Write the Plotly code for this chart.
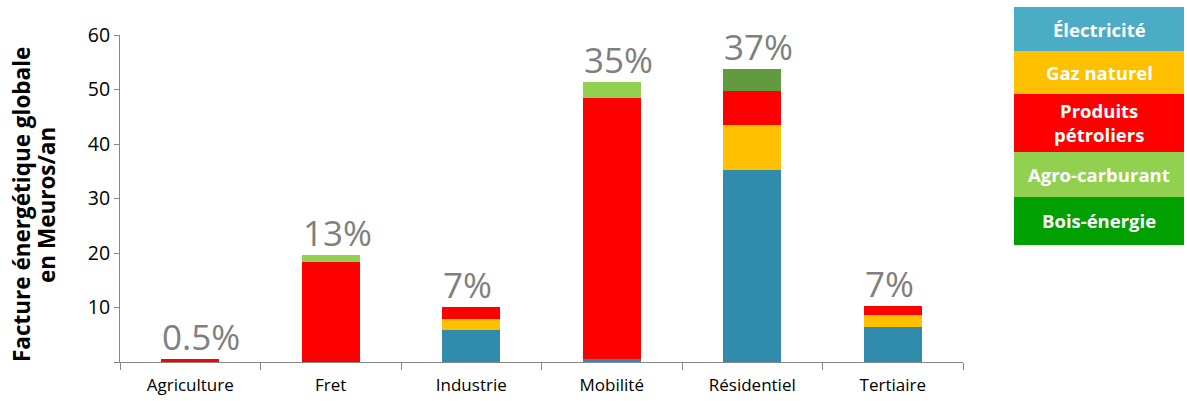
import plotly.graph_objects as go

categories = ["Agriculture", "Fret", "Industrie", "Mobilité", "Résidentiel", "Tertiaire"]
electricite = [0.0, 0.0, 5.9, 0.5, 35.2, 6.5]
gaz_naturel = [0.0, 0.0, 1.9, 0.0, 8.2, 2.1]
produits_petroliers = [0.6, 18.4, 2.3, 47.9, 6.3, 1.7]
agro_carburant = [0.0, 1.2, 0.0, 3.0, 0.0, 0.0]
bois_energie = [0.0, 0.0, 0.0, 0.0, 4.1, 0.0]
share_labels = ["0.5%", "13%", "7%", "35%", "37%", "7%"]

series_names = ["Électricité", "Gaz naturel", "Produits<br>pétroliers", "Agro-carburant", "Bois-énergie"]
bar_colors = ["#318BAD", "#FFC000", "#FF0000", "#92D050", "#629B3F"]
legend_colors = ["#4BACC6", "#FFC000", "#FF0000", "#92D050", "#00A000"]
series_values = [electricite, gaz_naturel, produits_petroliers, agro_carburant, bois_energie]

y_tickvals = [0, 10, 20, 30, 40, 50, 60]
y_ticktext = ["", "10", "20", "30", "40", "50", "60"]
y_title_lines = ["Facture énergétique globale", "en Meuros/an"]

FONT = "'Open Sans', sans-serif"

fig = go.Figure()
for name, vals, col in zip(series_names, series_values, bar_colors):
    fig.add_trace(go.Bar(x=categories, y=vals, name=name.replace("<br>", " "),
                         marker=dict(color=col, line=dict(width=0)), showlegend=False))

totals = [sum(v) for v in zip(*series_values)]
for cat, tot, lab in zip(categories, totals, share_labels):
    fig.add_annotation(x=cat, y=tot, text=lab, showarrow=False, xanchor="left", yanchor="bottom",
                       xshift=-30, yshift=-3, font=dict(family=FONT, size=35, color="#7F7F7F"))

W, H = 1187, 401
ml, mr, mt, mb = 120, 224, 35, 39
pw, ph = W - ml - mr, H - mt - mb
def px_x(x):
    return (x - ml) / pw
def px_y(y):
    return (H - mb - y) / ph

# y-axis title as two rotated lines
for line, cx in zip(y_title_lines, [21, 46]):
    fig.add_annotation(xref="paper", yref="paper", x=px_x(cx), y=px_y(205), text="<b>" + line + "</b>",
                       textangle=-90, showarrow=False, xanchor="center", yanchor="middle",
                       font=dict(family=FONT, size=22.5, color="#000"))

# Custom legend (stacked colored boxes)
box_edges = [7, 51, 94, 152, 197, 245]
for i, (name, col) in enumerate(zip(series_names, legend_colors)):
    y0, y1 = box_edges[i], box_edges[i + 1]
    fig.add_shape(type="rect", xref="paper", yref="paper",
                  x0=px_x(1014), x1=px_x(1184), y0=px_y(y1), y1=px_y(y0),
                  fillcolor=col, line=dict(width=0))
    fig.add_annotation(xref="paper", yref="paper", x=px_x(1099), y=px_y((y0 + y1) / 2),
                       text="<b>" + name + "</b>", showarrow=False, xanchor="center", yanchor="middle",
                       font=dict(family=FONT, size=18.5, color="white"))

fig.update_layout(
    width=W, height=H, barmode="stack", bargap=0.59,
    margin=dict(l=ml, r=mr, t=mt, b=mb, autoexpand=False),
    plot_bgcolor="white", paper_bgcolor="white",
    font=dict(family=FONT, size=17, color="#000000"),
)
fig.update_xaxes(type="category", range=[-0.5, 5.5], showline=True, linecolor="#868686", linewidth=1,
                 ticks="outside", tickson="boundaries", ticklen=7, tickcolor="#868686",
                 ticklabelstandoff=8, showgrid=False, tickfont=dict(size=17, color="#000"))
fig.update_yaxes(range=[0, 60], tickvals=y_tickvals, ticktext=y_ticktext, showline=True,
                 linecolor="#868686", linewidth=1, ticks="outside", ticklen=5, tickcolor="#868686",
                 showgrid=False, zeroline=False, tickfont=dict(size=19.5, color="#000"))

fig.write_html("out.html")
